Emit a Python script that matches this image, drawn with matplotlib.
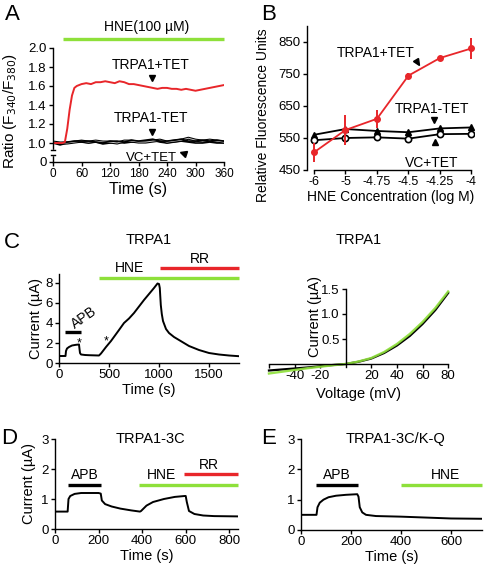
import numpy as np
import matplotlib
matplotlib.use('Agg')
import matplotlib.pyplot as plt
from matplotlib.markers import MarkerStyle
from matplotlib.transforms import Affine2D

plt.rcParams['font.family'] = ['Liberation Sans', 'DejaVu Sans']
plt.rcParams['font.size'] = 9.5
plt.rcParams['axes.linewidth'] = 1.0
plt.rcParams['xtick.major.width'] = 1.0
plt.rcParams['ytick.major.width'] = 1.0
plt.rcParams['xtick.major.size'] = 3
plt.rcParams['ytick.major.size'] = 3
plt.rcParams['xtick.major.pad'] = 1.5
plt.rcParams['ytick.major.pad'] = 1.5
plt.rcParams['xtick.labelsize'] = 9.5
plt.rcParams['ytick.labelsize'] = 9.5

RED = '#e8262a'
GREEN = '#8ee03a'
LAB = 10.5   # axis label size
ANN = 10     # annotation size

# ---- panel A: Ca ratio traces ----
a_red_t = [0, 10, 20, 25, 30, 35, 40, 45, 50, 60, 70, 80, 90, 100, 110, 120, 130, 140, 150,
           160, 170, 180, 190, 200, 210, 220, 230, 240, 250, 260, 270, 280, 290, 300, 310,
           320, 330, 340, 350, 360]
a_red = [1.00, 1.00, 1.00, 1.01, 1.15, 1.35, 1.50, 1.58, 1.60, 1.62, 1.63, 1.62, 1.64, 1.64,
         1.65, 1.64, 1.63, 1.65, 1.64, 1.62, 1.62, 1.61, 1.60, 1.59, 1.58, 1.57, 1.58, 1.58,
         1.57, 1.57, 1.56, 1.57, 1.56, 1.55, 1.56, 1.57, 1.58, 1.59, 1.60, 1.61]
a_blk_t = list(range(0, 361, 15))
a_minus = [1.00, 1.00, 1.01, 1.02, 1.02, 1.02, 1.01, 1.00, 1.02, 1.02, 1.01, 1.03, 1.02,
           1.03, 1.04, 1.02, 1.02, 1.03, 1.04, 1.02, 1.02, 1.03, 1.02, 1.03, 1.02]
a_vc = [1.00, 0.98, 1.00, 1.01, 1.01, 1.00, 1.01, 0.99, 1.00, 1.01, 1.00, 1.01, 1.01,
        1.02, 1.03, 1.01, 1.00, 1.01, 1.02, 1.01, 1.00, 1.00, 1.01, 1.00, 1.00]
a_third = [1.01, 1.00, 1.00, 1.01, 1.02, 1.01, 1.02, 1.01, 1.01, 1.00, 1.02, 1.02, 1.01,
           1.01, 1.02, 1.03, 1.01, 1.02, 1.03, 1.05, 1.03, 1.02, 1.03, 1.02, 1.01]

# ---- panel B: dose response ----
b_conc = ['-6', '-5', '-4.75', '-4.5', '-4.25', '-4']
b_plus = [505, 575, 610, 745, 800, 830]
b_plus_err = [30, 48, 28, 8, 6, 33]
b_minus = [560, 578, 572, 568, 580, 583]
b_vc = [543, 550, 552, 548, 562, 563]

# ---- panel C: TRPA1 current and I-V ----
c_t = [0, 65, 70, 80, 100, 130, 170, 200, 205, 210, 220, 260, 300, 400, 420, 470, 520,
       600, 650, 700, 750, 850, 950, 985, 1000, 1008, 1012, 1018, 1028, 1040, 1070, 1100,
       1150, 1200, 1300, 1400, 1500, 1600, 1700, 1800]
c_i = [0.7, 0.7, 1.2, 1.45, 1.6, 1.75, 1.82, 1.85, 1.4, 1.0, 0.85, 0.8, 0.78, 0.75, 0.95,
       1.6, 2.2, 3.3, 4.0, 4.45, 5.0, 6.3, 7.5, 7.95, 7.9, 7.5, 6.8, 5.8, 4.9, 4.2, 3.4, 3.0,
       2.6, 2.3, 1.7, 1.3, 1.0, 0.85, 0.75, 0.68]
iv_v = [-60, -50, -40, -30, -20, -10, 0, 10, 20, 30, 40, 50, 60, 70, 80]
iv_blk = [-0.13, -0.11, -0.09, -0.07, -0.045, -0.02, 0, 0.045, 0.11, 0.22, 0.37, 0.56,
          0.8, 1.08, 1.42]
iv_grn = [-0.19, -0.155, -0.12, -0.085, -0.055, -0.025, 0, 0.05, 0.12, 0.24, 0.40, 0.60,
          0.84, 1.12, 1.45]

# ---- panel D: TRPA1-3C ----
d_t = [0, 58, 62, 70, 90, 120, 200, 210, 215, 230, 260, 300, 350, 390, 395, 420, 450,
       500, 550, 595, 600, 605, 615, 640, 680, 730, 840]
d_i = [0.58, 0.58, 1.0, 1.1, 1.17, 1.2, 1.2, 1.18, 0.95, 0.83, 0.75, 0.68, 0.62, 0.58,
       0.6, 0.78, 0.9, 1.0, 1.07, 1.1, 1.1, 0.9, 0.6, 0.5, 0.45, 0.43, 0.42]

# ---- panel E: TRPA1-3C/K-Q ----
e_t = [0, 62, 66, 75, 90, 110, 140, 180, 225, 230, 235, 245, 260, 300, 400, 500, 600, 724]
e_i = [0.5, 0.5, 0.75, 0.9, 1.0, 1.08, 1.13, 1.16, 1.18, 1.1, 0.75, 0.58, 0.5, 0.46,
       0.44, 0.41, 0.38, 0.37]

W, H = 484, 572
fig = plt.figure(figsize=(W / 100, H / 100), dpi=100)


def axes_px(l, t, r, b):
    return fig.add_axes([l / W, 1 - b / H, (r - l) / W, (b - t) / H])


def prism(ax):
    ax.spines['top'].set_visible(False)
    ax.spines['right'].set_visible(False)
    ax.tick_params(direction='out')


def bar(ax, x0, x1, y, color):
    ax.plot([x0, x1], [y, y], color=color, lw=2.4, clip_on=False, solid_capstyle='butt')


# A
ax = axes_px(53, 48, 224, 162)
prism(ax)
ax.plot(a_blk_t, a_vc, color='black', lw=1.2)
ax.plot(a_blk_t, a_third, color='black', lw=2.2)
ax.plot(a_blk_t, a_third, color='#c8c8c8', lw=0.7)
ax.plot(a_blk_t, a_minus, color='black', lw=1.2)
ax.plot(a_red_t, a_red, color=RED, lw=1.4)
ax.set_xlim(0, 360)
ax.set_ylim(0.8, 2.0)
ax.set_xticks(range(0, 361, 60))
ax.tick_params(axis='x', labelsize=8.5)
ax.set_yticks([0.8, 1.0, 1.2, 1.4, 1.6, 1.8, 2.0])
ax.set_yticklabels(['0', '1.0', '1.2', '1.4', '1.6', '1.8', '2.0'])
ax.add_patch(plt.Rectangle((-8, 0.87), 16, 0.06, color='white', clip_on=False, zorder=5))
for yb in (0.87, 0.93):
    ax.plot([-4, 4], [yb, yb], color='black', lw=1.0, clip_on=False, zorder=6)
ax.set_xlabel('Time (s)', fontsize=11.5, labelpad=1)
ax.set_ylabel('Ratio (F$_{340}$/F$_{380}$)', fontsize=11, labelpad=1)
ax.yaxis.set_label_coords(-0.2, 0.45)
bar(ax, 21, 360, 2.09, GREEN)
ax.text(198, 2.15, 'HNE(100 µM)', ha='center', va='bottom', fontsize=ANN)
ax.text(206, 1.82, 'TRPA1+TET', ha='center', va='center', fontsize=ANN)
ax.plot([208], [1.68], marker='v', color='black', ms=4.5, clip_on=False)
ax.text(206, 1.26, 'TRPA1-TET', ha='center', va='center', fontsize=ANN)
ax.plot([208], [1.12], marker='v', color='black', ms=4.5, clip_on=False)
ax.text(208, 0.84, 'VC+TET', ha='center', va='center', fontsize=9.5)
ax.plot([274], [0.89], marker=MarkerStyle('<', transform=Affine2D().rotate_deg(-25)),
        color='black', ms=4.5, clip_on=False)

# B
ax = axes_px(307, 26, 474, 170)
prism(ax)
xb = np.arange(len(b_conc))
ax.plot(xb, b_minus, color='black', lw=1.3, marker='^', ms=4.5, mfc='black')
ax.plot(xb, b_vc, color='black', lw=1.3, marker='o', ms=4.5, mfc='white', mew=1.2)
ax.errorbar(xb, b_plus, yerr=b_plus_err, color=RED, lw=1.3, marker='o', ms=4, capsize=0,
            elinewidth=1.4, zorder=5)
ax.set_xlim(-0.22, 5.08)
ax.set_ylim(450, 900)
ax.spines['bottom'].set_bounds(0, 5)
ax.set_xticks(xb)
ax.set_xticklabels(b_conc, fontsize=9)
ax.set_yticks([450, 550, 650, 750, 850])
ax.set_xlabel('HNE Concentration (log M)', fontsize=10, labelpad=1)
ax.set_ylabel('Relative Fluorescence Units', fontsize=10)
ax.yaxis.set_label_coords(-0.22, 0.38)
ax.text(1.95, 815, 'TRPA1+TET', ha='center', va='center', fontsize=ANN)
ax.plot([3.26], [787], marker=MarkerStyle('v', transform=Affine2D().rotate_deg(30)),
        color='black', ms=4.5)
ax.text(3.75, 640, 'TRPA1-TET', ha='center', va='center', fontsize=ANN)
ax.plot([3.82], [606], marker='v', color='black', ms=4.5)
ax.text(3.75, 472, 'VC+TET', ha='center', va='center', fontsize=ANN)
ax.plot([3.85], [537], marker='^', color='black', ms=4.5)

# C left
ax = axes_px(59, 274, 239, 363)
prism(ax)
ax.plot(c_t, c_i, color='black', lw=1.4)
ax.set_xlim(0, 1800)
ax.set_ylim(0, 8.9)
ax.set_xticks([0, 500, 1000, 1500])
ax.set_yticks([0, 2, 4, 6, 8])
ax.set_xlabel('Time (s)', fontsize=LAB, labelpad=1)
ax.set_ylabel('Current (µA)', fontsize=LAB, labelpad=2)
bar(ax, 400, 1800, 8.5, GREEN)
bar(ax, 1010, 1800, 9.5, RED)
bar(ax, 60, 220, 3.1, 'black')
ax.text(710, 8.75, 'HNE', ha='center', va='bottom', fontsize=ANN)
ax.text(1410, 9.7, 'RR', ha='center', va='bottom', fontsize=ANN)
ax.text(250, 4.5, 'APB', ha='center', va='center', fontsize=ANN, rotation=35)
ax.text(200, 2.0, '*', ha='center', va='center', fontsize=9)
ax.text(470, 2.2, '*', ha='center', va='center', fontsize=9)
ax.text(900, 12.3, 'TRPA1', ha='center', va='center', fontsize=10.5, clip_on=False)

# C right
ax = axes_px(266.4, 286.5, 450.7, 376.5)
ax.spines['top'].set_visible(False)
ax.spines['right'].set_visible(False)
ax.spines['left'].set_position(('data', 0))
ax.spines['bottom'].set_position(('data', 0))
ax.spines['left'].set_bounds(-0.06, 1.5)
ax.spines['bottom'].set_bounds(-60, 80)
ax.plot(iv_v, iv_blk, color='black', lw=1.6)
ax.plot(iv_v, iv_grn, color=GREEN, lw=1.7, alpha=0.9)
ax.set_xlim(-62, 82)
ax.set_ylim(-0.25, 1.55)
ax.set_xticks([-60, -40, -20, 20, 40, 60, 80])
ax.set_xticklabels(['', '-40', '-20', '20', '40', '60', '80'])
ax.set_yticks([0.5, 1.0, 1.5])
ax.tick_params(direction='out')
ax.text(10, -0.6, 'Voltage (mV)', ha='center', va='center', fontsize=LAB)
ax.text(-24, 0.95, 'Current (µA)', ha='center', va='center', fontsize=LAB, rotation=90)
ax.text(10, 2.47, 'TRPA1', ha='center', va='center', fontsize=10.5, clip_on=False)

# D
ax = axes_px(55, 439, 238, 529)
prism(ax)
ax.plot(d_t, d_i, color='black', lw=1.4)
ax.set_xlim(0, 840)
ax.set_ylim(0, 3)
ax.set_xticks([0, 200, 400, 600, 800])
ax.set_yticks([0, 1, 2, 3])
ax.set_xlabel('Time (s)', fontsize=LAB, labelpad=1)
ax.set_ylabel('Current (µA)', fontsize=LAB, labelpad=4)
bar(ax, 60, 211, 1.47, 'black')
bar(ax, 386, 840, 1.47, GREEN)
bar(ax, 593, 840, 1.83, RED)
ax.text(138, 1.56, 'APB', ha='center', va='bottom', fontsize=ANN)
ax.text(490, 1.56, 'HNE', ha='center', va='bottom', fontsize=ANN)
ax.text(705, 1.91, 'RR', ha='center', va='bottom', fontsize=ANN)
ax.text(437, 3.0, 'TRPA1-3C', ha='center', va='center', fontsize=10.5)

# E
ax = axes_px(301, 439, 482, 530)
prism(ax)
ax.plot(e_t, e_i, color='black', lw=1.4)
ax.set_xlim(0, 724)
ax.set_ylim(0, 3)
ax.set_xticks([0, 200, 400, 600])
ax.set_yticks([0, 1, 2, 3])
ax.set_xlabel('Time (s)', fontsize=LAB, labelpad=1)
bar(ax, 60, 228, 1.49, 'black')
bar(ax, 400, 724, 1.49, GREEN)
ax.text(145, 1.58, 'APB', ha='center', va='bottom', fontsize=ANN)
ax.text(577, 1.58, 'HNE', ha='center', va='bottom', fontsize=ANN)
ax.text(376, 3.0, 'TRPA1-3C/K-Q', ha='center', va='center', fontsize=10.5)

for lab, x, y in [('A', 12, 15), ('B', 269, 15), ('C', 12, 243), ('D', 9, 439), ('E', 269, 438)]:
    fig.text(x / W, 1 - y / H, lab, ha='center', va='center', fontsize=16)

fig.savefig('out.png', dpi=100)
